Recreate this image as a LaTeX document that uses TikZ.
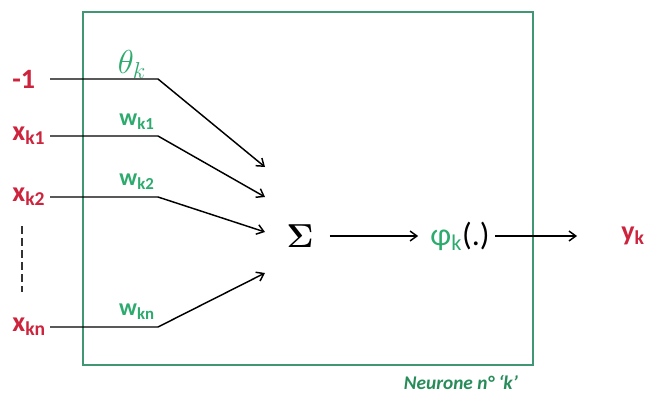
\documentclass[tikz,border=0pt]{standalone}
\usepackage{amsmath, amssymb}
\usepackage[no-math]{fontspec}
\setmainfont{Carlito}
\usetikzlibrary{arrows.meta, positioning}

\definecolor{inred}{RGB}{205,35,60}
\definecolor{wgreen}{RGB}{45,170,110}
\definecolor{boxgreen}{RGB}{65,150,115}
\definecolor{capgreen}{RGB}{40,140,90}

\begin{document}
\begin{tikzpicture}[
    x=0.75pt, y=-0.75pt,
    neuron/.style={
        draw=boxgreen,
        line width=1.6pt,
        minimum width=337.5pt,
        minimum height=264.75pt,
        inner sep=0pt
    },
    input/.style={
        anchor=east,
        text=inred,
        font=\fontsize{21}{24}\selectfont\bfseries,
        text width=28pt,
        align=left,
        inner sep=0pt
    },
    weight/.style={
        text=wgreen,
        font=\fontsize{18}{20}\selectfont\bfseries,
        inner sep=0pt
    },
    output/.style={
        text=inred,
        font=\fontsize{21}{24}\selectfont\bfseries,
        inner sep=0pt
    },
    op/.style={
        inner sep=0pt
    },
    arrow/.style={-{Straight Barb[length=1.8mm, width=2.6mm]}, line width=1.1pt}
]

\useasboundingbox (0,0) rectangle (646,400);

\node[neuron] (neuron) at (308,188.5) {};
\node[below left=7pt and 12pt of neuron.south east, inner sep=0pt,
      text=capgreen, font=\fontsize{14.5}{16}\selectfont\bfseries\itshape]
      (caption) {Neurone n° ‘k’};

% inputs
\node[input] (in0) at (50,79) {-1};
\node[input] (in1) at (50,136) {x\textsubscript{k1}};
\node[input] (in2) at (50,197) {x\textsubscript{k2}};
\node[input] (in3) at (50,327) {x\textsubscript{kn}};
\draw[black!80, line width=1.3pt, dash pattern=on 6pt off 3pt] (22,226) -- (22,292);

% weights
\node[text=wgreen, font=\fontsize{23}{26}\selectfont, inner sep=0pt] (th) at (132,64) {$\theta_k$};
\node[weight] (w1) at (137,122) {w\textsubscript{k1}};
\node[weight] (w2) at (137,182) {w\textsubscript{k2}};
\node[weight] (wn) at (137,312) {w\textsubscript{kn}};

% sum and activation
\node[op, font=\fontsize{36}{40}\selectfont] (sig) at (300,236) {$\boldsymbol{\Sigma}$};
\node[op, font=\fontsize{24}{28}\selectfont] (phi) at (460,236) {\textcolor{wgreen}{φ\textsubscript{k}}(.)};
\node[output] (yk) at (633,236) {y\textsubscript{k}};

\coordinate (b0) at (158,79);
\coordinate (b1) at (158,136);
\coordinate (b2) at (158,197);
\coordinate (b3) at (158,327);
\coordinate (t0) at (265,167);
\coordinate (t1) at (265,197);
\coordinate (t2) at (265,232);
\coordinate (t3) at (265,273);

\draw[arrow] (in0.east) -- (b0) -- (t0);
\draw[arrow] (in1.east) -- (b1) -- (t1);
\draw[arrow] (in2.east) -- (b2) -- (t2);
\draw[arrow] (in3.east) -- (b3) -- (t3);

\draw[arrow, shorten <=12pt, shorten >=9pt] (sig.east) -- (phi.west);
\draw[arrow, shorten <=4pt, shorten >=33pt] (phi.east) -- (yk.west);

\end{tikzpicture}
\end{document}
